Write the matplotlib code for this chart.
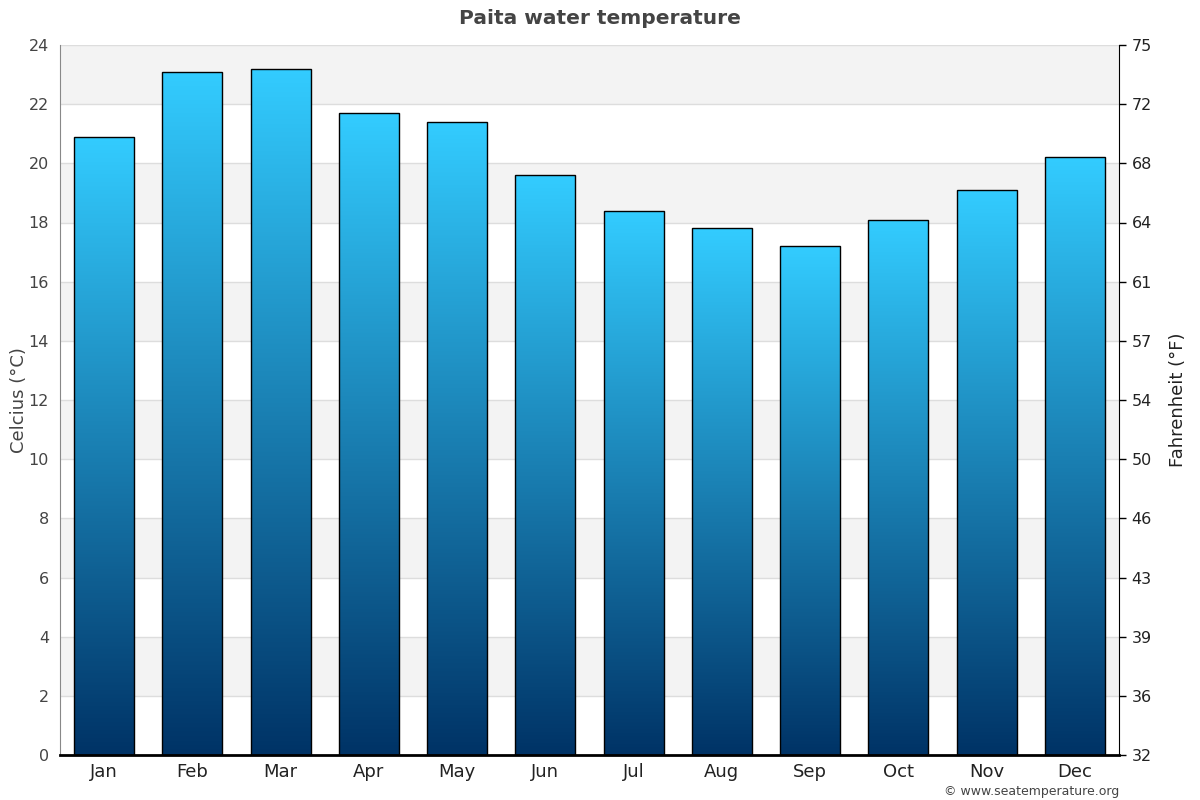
import numpy as np
import matplotlib
matplotlib.use("Agg")
import matplotlib.pyplot as plt
from matplotlib.colors import LinearSegmentedColormap
from matplotlib.patches import Rectangle

# Monthly average water temperature, Paita (deg C)
months = ["Jan", "Feb", "Mar", "Apr", "May", "Jun",
          "Jul", "Aug", "Sep", "Oct", "Nov", "Dec"]
temps_c = [20.9, 23.1, 23.2, 21.7, 21.4, 19.6, 18.4, 17.8, 17.2, 18.1, 19.1, 20.2]
c_ticks = [0, 2, 4, 6, 8, 10, 12, 14, 16, 18, 20, 22, 24]
f_labels = [str(int(round(c * 9 / 5 + 32))) for c in c_ticks]

plt.rcParams["font.family"] = ["DejaVu Sans"]

fig = plt.figure(figsize=(12, 8), dpi=100)
ax = fig.add_axes([60 / 1200, 45 / 800, (1119 - 60) / 1200, (755 - 45) / 800])

x = np.arange(len(months))
bar_w = 0.68

# alternating background bands
for lo in range(2, 24, 4):
    ax.axhspan(lo, lo + 2, color="#f3f3f3", zorder=0, lw=0)
for c in c_ticks[1:]:
    ax.axhline(c, color="#dddddd", lw=1, zorder=1)

# gradient bars: light cyan at top to dark navy at bottom
cmap = LinearSegmentedColormap.from_list("sea", ["#003366", "#1a80b3", "#33ccff"])
grad = np.linspace(0, 1, 256).reshape(-1, 1)
bars = ax.bar(x, temps_c, width=bar_w, color="none", edgecolor="black", lw=1, zorder=3)
for b, t in zip(bars, temps_c):
    x0 = b.get_x()
    im = ax.imshow(grad, cmap=cmap, origin="lower", aspect="auto",
                   extent=[x0, x0 + bar_w, 0, t], zorder=2)
    clip = Rectangle((x0, 0), bar_w, t, transform=ax.transData)
    im.set_clip_path(clip)
ax.set_xlim(-0.5, len(months) - 0.5)
ax.set_ylim(0, 24)

ax.set_xticks(x)
ax.set_xticklabels(months, fontsize=13, color="#222222")
ax.set_yticks(c_ticks)
ax.tick_params(axis="y", labelsize=11.5, labelcolor="#444444", length=0, pad=8)
ax.tick_params(axis="x", length=0, pad=6)
ax.set_ylabel("Celcius (°C)", fontsize=13, color="#444444", labelpad=0)

ax.spines["top"].set_visible(False)
ax.spines["right"].set_visible(False)
ax.spines["left"].set_color("#888888")
ax.spines["bottom"].set_color("black")
ax.spines["bottom"].set_linewidth(2)

ax2 = ax.twinx()
ax2.set_ylim(0, 24)
ax2.set_yticks(c_ticks)
ax2.set_yticklabels(f_labels)
ax2.tick_params(axis="y", labelsize=11.5, labelcolor="#222222", length=5, width=1, pad=4)
ax2.set_ylabel("Fahrenheit (°F)", fontsize=13, color="#222222", labelpad=12)
for s in ["top", "left", "bottom"]:
    ax2.spines[s].set_visible(False)
ax2.spines["right"].set_color("black")

fig.text(0.5, 1 - 18 / 800, "Paita water temperature", ha="center", va="center",
         fontsize=14.5, fontweight="bold", color="#444444")
fig.text(1119 / 1200, 1 - 792 / 800, "© www.seatemperature.org", ha="right",
         va="center", fontsize=9, color="#444444")

fig.savefig("out.png", dpi=100)
